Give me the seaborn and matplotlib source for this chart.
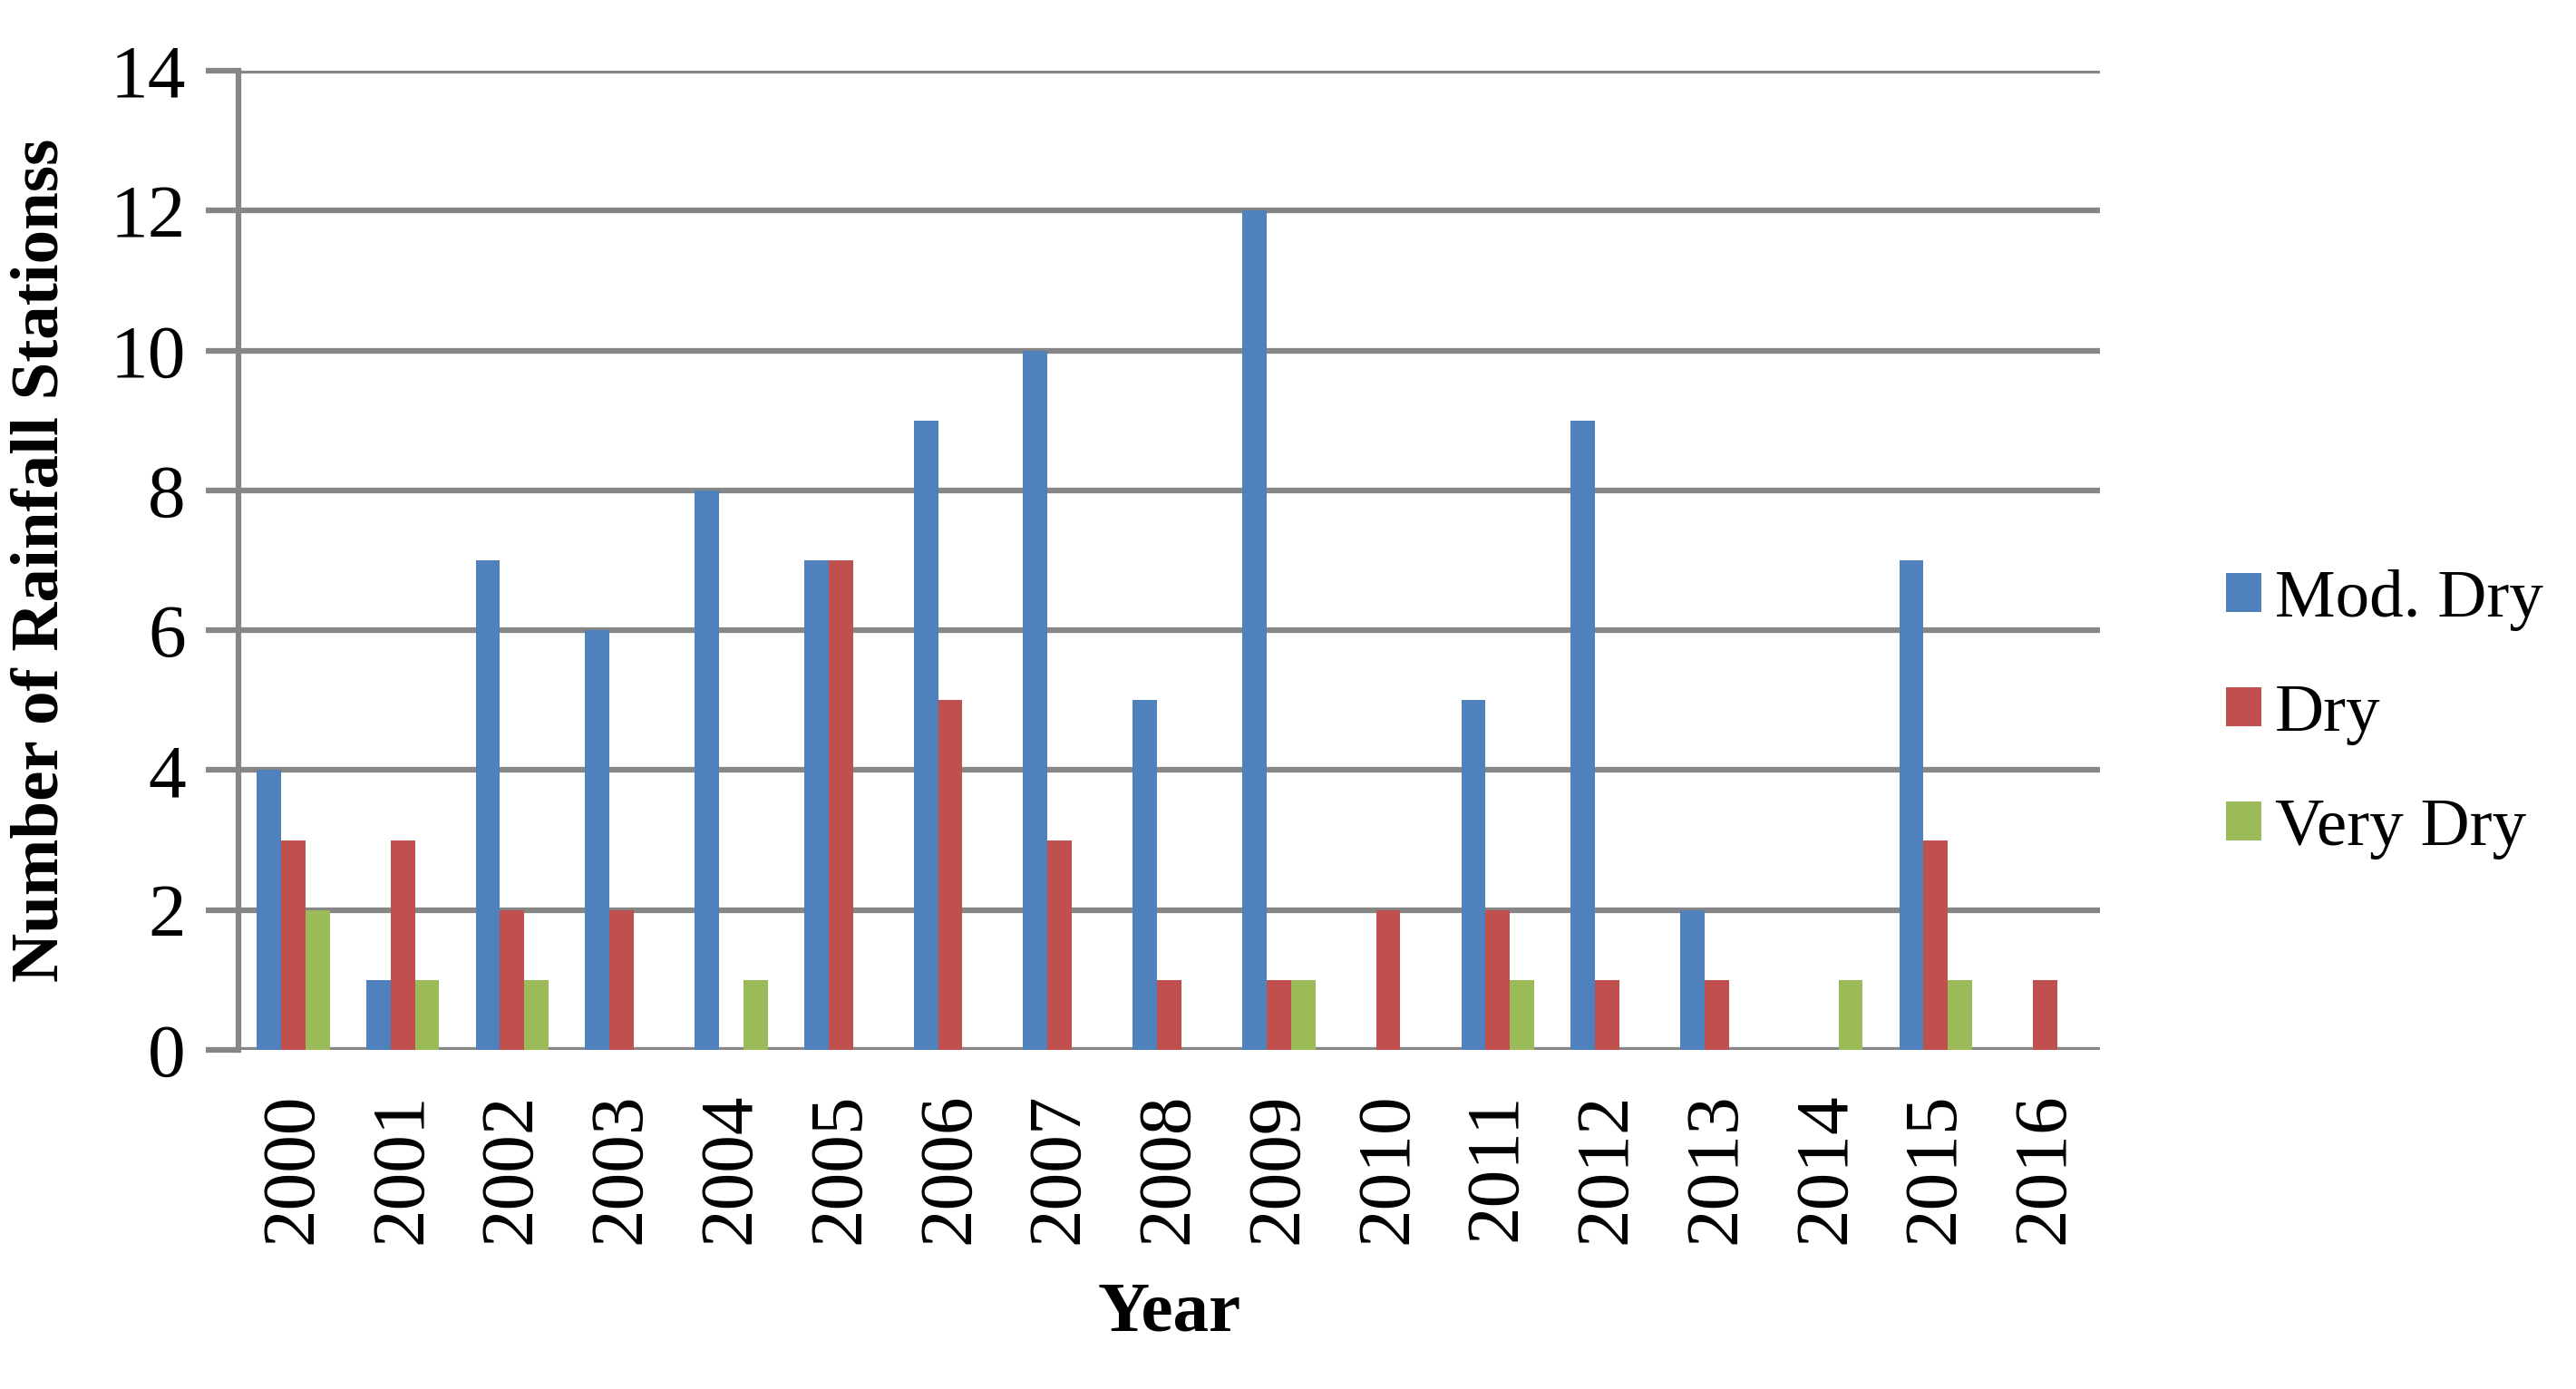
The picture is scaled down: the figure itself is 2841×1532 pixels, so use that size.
import pandas as pd
import matplotlib
matplotlib.use("Agg")
import matplotlib.pyplot as plt
import seaborn as sns

years = ['2000', '2001', '2002', '2003', '2004', '2005', '2006', '2007', '2008',
         '2009', '2010', '2011', '2012', '2013', '2014', '2015', '2016']
mod_dry = [4, 1, 7, 6, 8, 7, 9, 10, 5, 12, 0, 5, 9, 2, 0, 7, 0]
dry = [3, 3, 2, 2, 0, 7, 5, 3, 1, 1, 2, 2, 1, 1, 0, 3, 1]
very_dry = [2, 1, 1, 0, 1, 0, 0, 0, 0, 1, 0, 1, 0, 0, 1, 1, 0]
series_names = ['Mod. Dry', 'Dry', 'Very Dry']
colors = ['#4F81BD', '#C0504D', '#9BBB59']

df = pd.DataFrame({
    'Year': years * 3,
    'Count': mod_dry + dry + very_dry,
    'Class': [s for s in series_names for _ in years],
})

sns.set_style("white")
plt.rcParams['font.family'] = ['Liberation Serif', 'DejaVu Serif']
plt.rcParams['text.color'] = 'black'
plt.rcParams['axes.labelcolor'] = 'black'

fig = plt.figure(figsize=(28.41, 15.32), dpi=100)
ax = fig.add_axes([263 / 2841, 1 - 1158 / 1532, (2316 - 263) / 2841, (1158 - 78) / 1532])

sns.barplot(data=df, x='Year', y='Count', hue='Class', order=years,
            hue_order=series_names, palette=colors, width=0.667, gap=0,
            saturation=1, linewidth=0, ax=ax, zorder=3)

grid_col = '#868686'
ax.set_ylim(0, 14)
ax.set_xlim(-0.5, len(years) - 0.5)
ax.set_yticks(range(0, 15, 2))
ax.yaxis.grid(True, color=grid_col, linewidth=4.5, zorder=0)
ax.set_axisbelow(True)
for s in ['top', 'right', 'bottom']:
    ax.spines[s].set_visible(False)
ax.spines['left'].set_color(grid_col)
ax.spines['left'].set_linewidth(4.5)
ax.tick_params(axis='y', left=True, length=26, width=4.5, color=grid_col,
               labelsize=60, labelcolor='black', pad=16)
ax.tick_params(axis='x', bottom=False, length=0, labelsize=60, labelcolor='black', pad=34)
plt.setp(ax.get_xticklabels(), rotation=90)

ax.set_xlabel('Year', fontsize=57, fontweight='bold', labelpad=30)
ax.set_ylabel('Number of Rainfall Stationss', fontsize=54, fontweight='bold', labelpad=30)

leg = ax.legend(loc='center left', bbox_to_anchor=(2455 / 2841, 1 - 788 / 1532),
                bbox_transform=fig.transFigure, frameon=False, borderpad=0,
                borderaxespad=0, fontsize=54, handlelength=0.52, handleheight=0.52,
                handletextpad=0.2, labelspacing=0.78)
for t in leg.get_texts():
    t.set_color('black')

fig.savefig('out.png', dpi=100)
